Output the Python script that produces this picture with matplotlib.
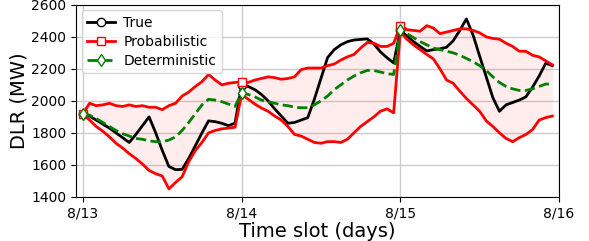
import numpy as np
import matplotlib
matplotlib.use("Agg")
import matplotlib.pyplot as plt

# hourly values, 3 days (8/13 .. 8/15)
true_dlr = [
    1920, 1905, 1880, 1855, 1830, 1800, 1770, 1740, 1790, 1845, 1900, 1800,
    1690, 1590, 1570, 1572, 1640, 1720, 1800, 1875, 1870, 1860, 1845, 1860,
    2100, 2090, 2070, 2040, 2000, 1950, 1905, 1860, 1865, 1880, 1895, 2010,
    2140, 2270, 2320, 2350, 2370, 2380, 2384, 2387, 2356, 2306, 2269, 2237,
    2440, 2405, 2370, 2340, 2312, 2320, 2325, 2335, 2375, 2440, 2512, 2412,
    2280, 2150, 2020, 1935, 1975, 1990, 2005, 2025, 2085, 2155, 2235, 2220,
]
upper = [
    1920, 1985, 1970, 1975, 1985, 1970, 1965, 1975, 1965, 1970, 1960, 1960,
    1945, 1970, 1985, 2030, 2055, 2090, 2120, 2165, 2130, 2100, 2110, 2115,
    2120, 2115, 2130, 2140, 2150, 2145, 2135, 2140, 2150, 2195, 2205, 2205,
    2205, 2220, 2230, 2255, 2275, 2290, 2330, 2365, 2360, 2340, 2340, 2360,
    2470, 2445, 2440, 2435, 2470, 2455, 2420, 2430, 2440, 2450, 2450, 2440,
    2425, 2400, 2390, 2385, 2360, 2340, 2310, 2310, 2285, 2275, 2250, 2225,
]
lower = [
    1920, 1880, 1840, 1810, 1775, 1735, 1705, 1670, 1640, 1605, 1565, 1545,
    1530, 1450, 1490, 1525, 1620, 1690, 1740, 1800, 1815, 1825, 1830, 1835,
    2040, 2010, 1980, 1955, 1935, 1905, 1880, 1840, 1790, 1780, 1760, 1740,
    1735, 1745, 1745, 1740, 1760, 1800, 1840, 1870, 1900, 1935, 1950, 1925,
    2430, 2385, 2350, 2320, 2290, 2262, 2200, 2130, 2110, 2060, 2015, 1975,
    1935, 1875, 1840, 1800, 1765, 1745, 1770, 1790, 1820, 1880, 1895, 1905,
]
deterministic = [
    1920, 1910, 1890, 1865, 1840, 1815, 1795, 1780, 1765, 1760, 1750, 1745,
    1745, 1755, 1775, 1815, 1865, 1920, 1975, 2010, 2005, 1995, 1980, 1965,
    2050, 2040, 2025, 2005, 1995, 1985, 1975, 1970, 1960, 1957, 1957, 1975,
    2000, 2030, 2070, 2100, 2130, 2155, 2175, 2190, 2190, 2180, 2170, 2165,
    2445, 2420, 2395, 2370, 2350, 2330, 2320, 2310, 2300, 2285, 2265, 2245,
    2220, 2190, 2150, 2115, 2090, 2075, 2065, 2065, 2075, 2090, 2105, 2105,
]
day_labels = ["8/13", "8/14", "8/15", "8/16"]

t = np.arange(len(true_dlr)) / 24.0
marks = [0, 24, 48]

fig = plt.figure(figsize=(5.89, 2.41), dpi=100)
ax = fig.add_axes([0.129, 0.183, 0.820, 0.797])

ax.fill_between(t, lower, upper, color="red", alpha=0.07, lw=0)
ax.plot(t, true_dlr, color="black", lw=2, marker="o", markevery=marks,
        markersize=6, markerfacecolor="white", label="True")
ax.plot(t, upper, color="red", lw=2, marker="s", markevery=marks,
        markersize=6, markerfacecolor="white", label="Probabilistic")
ax.plot(t, lower, color="red", lw=2)
ax.plot(t, deterministic, color="green", lw=2, ls="--", marker="d",
        markevery=marks, markersize=6, markerfacecolor="white",
        label="Deterministic")

ax.set_xlim(-0.044, 3.0)
ax.set_ylim(1400, 2600)
ax.set_xticks(range(len(day_labels)))
ax.set_xticklabels(day_labels, fontsize=10)
ax.set_yticks(np.arange(1400, 2601, 200))
ax.tick_params(axis="y", labelsize=10)
ax.grid(True, color="#cccccc", lw=1)
ax.set_axisbelow(True)
ax.set_xlabel("Time slot (days)", fontsize=14, labelpad=1)
ax.set_ylabel("DLR (MW)", fontsize=14, labelpad=2)
ax.legend(loc="upper left", fontsize=10, handlelength=2.0,
          handletextpad=0.6, borderaxespad=0.4, labelspacing=0.35)

fig.savefig("out.png", dpi=100)
